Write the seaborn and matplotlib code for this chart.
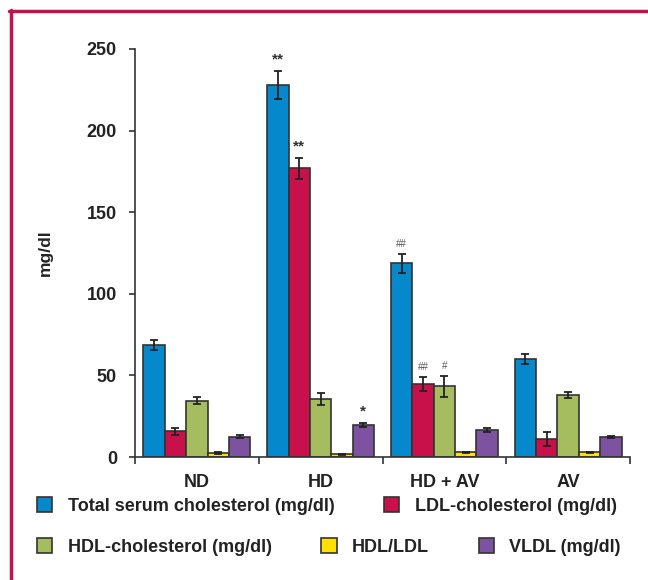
import matplotlib
matplotlib.use("Agg")
import matplotlib.pyplot as plt
from matplotlib.lines import Line2D
from matplotlib.patches import Patch
import numpy as np
import pandas as pd
import seaborn as sns

# Groups and measured lipid parameters
groups = ["ND", "HD", "HD + AV", "AV"]
measures = ["Total serum cholesterol (mg/dl)", "LDL-cholesterol (mg/dl)",
            "HDL-cholesterol (mg/dl)", "HDL/LDL", "VLDL (mg/dl)"]

total_chol = [68.5, 228.0, 118.7, 60.0]
total_chol_err = [3.0, 8.5, 5.7, 3.0]
ldl_chol = [15.7, 176.9, 44.9, 10.8]
ldl_chol_err = [2.0, 6.5, 4.3, 4.3]
hdl_chol = [34.5, 35.7, 43.3, 38.0]
hdl_chol_err = [2.0, 3.7, 6.3, 2.0]
hdl_ldl = [2.6, 1.6, 2.9, 2.9]
hdl_ldl_err = [0.7, 0.2, 0.3, 0.3]
vldl = [12.5, 19.6, 16.5, 12.2]
vldl_err = [0.8, 1.5, 1.3, 0.6]

# Significance marks: (group, measure index) -> label
sig_marks = {("HD", 0): "**", ("HD", 1): "**", ("HD", 4): "*",
             ("HD + AV", 0): "##", ("HD + AV", 1): "##", ("HD + AV", 2): "#"}

colors = ["#0588cc", "#c8104a", "#a5bd5e", "#ffe000", "#7d52a1"]
edge = "#333333"

values = [total_chol, ldl_chol, hdl_chol, hdl_ldl, vldl]
errors = [total_chol_err, ldl_chol_err, hdl_chol_err, hdl_ldl_err, vldl_err]

rows = []
for m, vals, errs in zip(measures, values, errors):
    for g, v, e in zip(groups, vals, errs):
        rows.append({"group": g, "measure": m, "value": v, "err": e})
df = pd.DataFrame(rows)

sns.set_style("white")
plt.rcParams["font.family"] = ["Liberation Sans", "DejaVu Sans"]
plt.rcParams["font.weight"] = "bold"

fig = plt.figure(figsize=(6.48, 5.8), dpi=100)
ax = fig.add_axes([135 / 648, 1 - 457 / 580, 495 / 648, 408 / 580])

sns.barplot(data=df, x="group", y="value", hue="measure", order=groups,
            hue_order=measures, palette=colors, saturation=1, width=0.865,
            gap=0, errorbar=None, edgecolor=edge, linewidth=1.2,
            legend=False, ax=ax)

# Error bars and significance marks on each bar
bar_sets = [list(c) for c in ax.containers]
for mi, cont in enumerate(bar_sets):
    for gi, bar in enumerate(cont):
        xc = bar.get_x() + bar.get_width() / 2
        h = bar.get_height()
        e = errors[mi][gi]
        ax.errorbar(xc, h, yerr=e, fmt="none", ecolor="#222222",
                    elinewidth=1.3, capsize=3, capthick=1.3, zorder=5)
        mark = sig_marks.get((groups[gi], mi))
        if mark:
            if "#" in mark:
                ax.text(xc, h + e + 3, mark, ha="center", va="bottom",
                        fontsize=7, color="#555555", fontweight="normal")
            else:
                ax.text(xc, h + e + 2.5, mark, ha="center", va="bottom",
                        fontsize=11, color="#333333", fontweight="bold")

ax.set_ylim(0, 250)
ax.set_xlim(-0.5, 3.5)
ax.set_yticks([0, 50, 100, 150, 200, 250])
ax.set_xticks(range(len(groups)))
ax.set_xticklabels(groups)
ax.set_xticks(np.arange(-0.5, 3.6, 1.0), minor=True)
ax.tick_params(axis="x", which="major", length=0, pad=12, labelsize=13,
               labelcolor="#222222")
ax.tick_params(axis="x", which="minor", length=5, width=1.2, color=edge,
               direction="out", bottom=True)
ax.tick_params(axis="y", length=4, width=1.2, color=edge, direction="out",
               left=True, pad=9, labelsize=13, labelcolor="#222222")
ax.set_xlabel("")
ax.set_ylabel("mg/dl", fontsize=12.5, fontweight="bold", color="#222222",
              labelpad=24)
for s in ["top", "right"]:
    ax.spines[s].set_visible(False)
for s in ["left", "bottom"]:
    ax.spines[s].set_color(edge)
    ax.spines[s].set_linewidth(1.2)

# Legend in two rows below the axes
handles = [Patch(facecolor=c, edgecolor=edge, linewidth=1.2) for c in colors]
leg_kw = dict(frameon=False, fontsize=13, handlelength=0.85,
              handleheight=0.85, handletextpad=0.85, columnspacing=2.75,
              borderpad=0, borderaxespad=0, loc="center left")
leg1 = fig.legend(handles[:2], measures[:2], ncol=2,
                  bbox_to_anchor=(37 / 648, 1 - 506 / 580), **leg_kw)
leg2 = fig.legend(handles[2:], measures[2:], ncol=3,
                  bbox_to_anchor=(37 / 648, 1 - 547 / 580), **leg_kw)
for leg in (leg1, leg2):
    for t in leg.get_texts():
        t.set_color("#222222")
        t.set_fontweight("bold")

# Crimson frame along the top and left edges
frame_c = "#c8114a"
fig.add_artist(Line2D([9 / 648, 1], [1 - 11 / 580, 1 - 11 / 580],
                      transform=fig.transFigure, color=frame_c, lw=2.5))
fig.add_artist(Line2D([10.5 / 648, 10.5 / 648], [0, 1 - 10 / 580],
                      transform=fig.transFigure, color=frame_c, lw=2.5))

fig.savefig("out.png", dpi=100)
